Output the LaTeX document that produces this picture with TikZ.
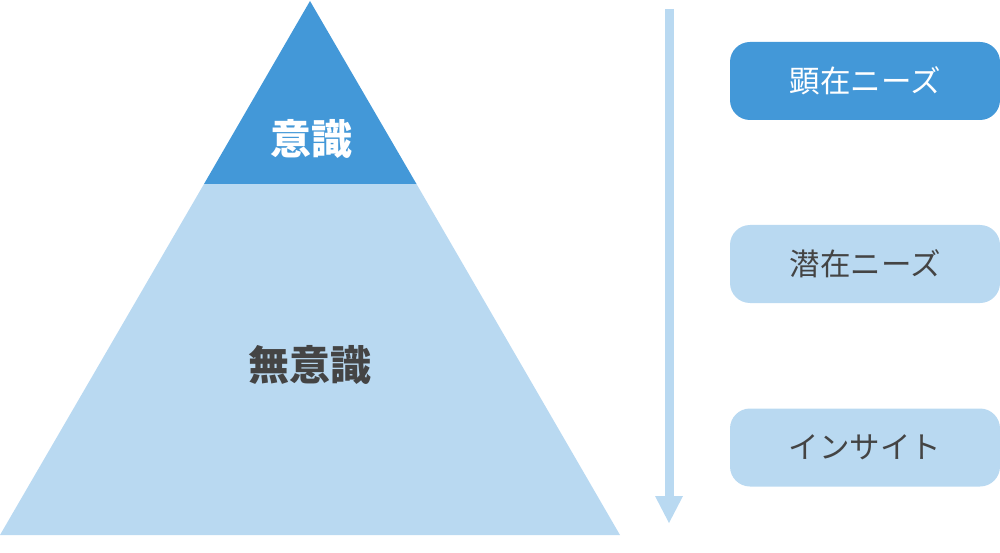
\documentclass[tikz,border=0pt]{standalone}
\usepackage{fontspec}
\newfontfamily\jp{Noto Sans CJK JP}
\definecolor{dblue}{HTML}{4398D8}
\definecolor{lblue}{HTML}{B9D9F1}
\definecolor{tgray}{HTML}{444444}
\begin{document}
\begin{tikzpicture}[x=1pt,y=-1pt,
  needbox/.style={rounded corners=20pt,minimum width=270pt,minimum height=78pt,inner sep=0pt,font=\jp\fontsize{30.5}{30.5}\selectfont},
  lbl/.style={font=\jp\fontsize{41}{41}\selectfont\bfseries,inner sep=0pt}]
\useasboundingbox (0,0) rectangle (1000,553);
% pyramid
\fill[lblue] (0,535) -- (204,184) -- (416.5,184) -- (620,535) -- cycle;
\fill[dblue] (310,1) -- (204,184) -- (416.5,184) -- cycle;
\node[lbl,text=white] (ishiki) at (311,139) {意識};
\node[lbl,text=tgray] (muishiki) at (310,365) {無意識};
% arrow
\coordinate (atop) at (669,9);
\coordinate (abot) at (669,523);
\draw[lblue,line width=9pt] (atop) -- (669,497);
\fill[lblue] (655,496) -- (683,496) -- (abot) -- cycle;
% boxes
\node[needbox,fill=dblue,text=white] (kenzai) at (865,81) {顕在ニーズ};
\node[needbox,fill=lblue,text=tgray] (senzai) at (865,264) {潜在ニーズ};
\node[needbox,fill=lblue,text=tgray] (insight) at (865,447.5) {インサイト};
\end{tikzpicture}
\end{document}
